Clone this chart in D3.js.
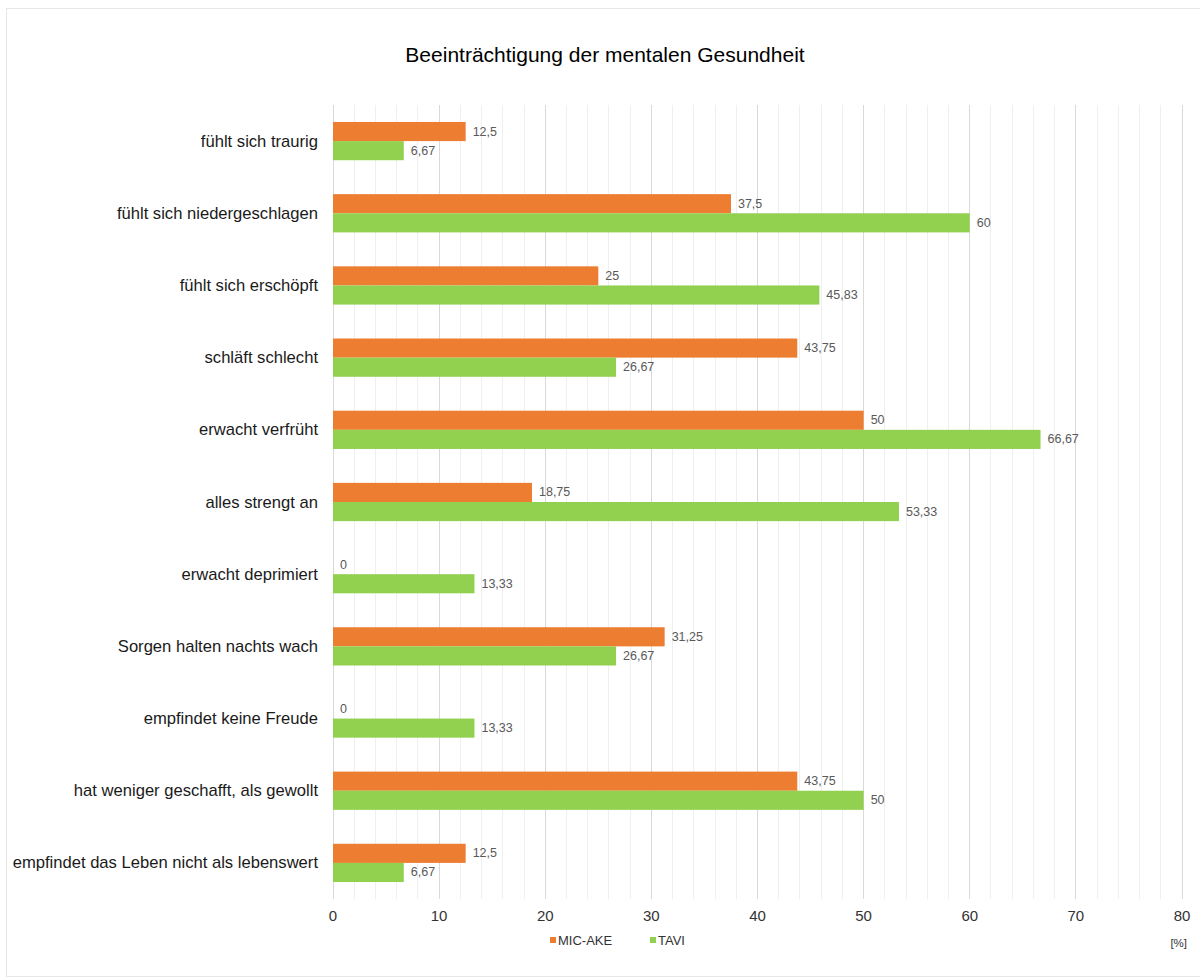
<!DOCTYPE html>
<html><head><meta charset="utf-8">
<script src="https://cdn.jsdelivr.net/npm/d3@7"></script>
<style>body{margin:0;background:#fff;}svg{display:block;font-family:"Liberation Sans",Arial,sans-serif;}</style>
</head><body><svg id="c" width="1200" height="979"></svg>
<script>
const categories = ["fühlt sich traurig","fühlt sich niedergeschlagen","fühlt sich erschöpft","schläft schlecht","erwacht verfrüht","alles strengt an","erwacht deprimiert","Sorgen halten nachts wach","empfindet keine Freude","hat weniger geschafft, als gewollt","empfindet das Leben nicht als lebenswert"];
const micAke = [12.5,37.5,25,43.75,50,18.75,0,31.25,0,43.75,12.5];
const tavi = [6.67,60,45.83,26.67,66.67,53.33,13.33,26.67,13.33,50,6.67];
const seriesNames = ["MIC-AKE","TAVI"];
const colors = ["#ED7D31","#92D050"];
const xTicks = [0,10,20,30,40,50,60,70,80];
const fmt = v => String(v).replace(".", ",");

const svg = d3.select("#c");
svg.append("rect").attr("x",6.5).attr("y",8.5).attr("width",1200).attr("height",968).attr("fill","none").attr("stroke","#e6e6e6");

const x = d3.scaleLinear().domain([0,80]).range([333,1182]);
const y = d3.scaleBand().domain(categories).range([105,899]).paddingInner(0.47).paddingOuter(0.235);
const ys = d3.scaleBand().domain(seriesNames).range([0,y.bandwidth()]);

// grid
const minor = d3.range(0,81,2);
svg.append("g").selectAll("line").data(minor).join("line")
  .attr("x1",d=>x(d)).attr("x2",d=>x(d)).attr("y1",105).attr("y2",899)
  .attr("stroke",d=>d%10===0?"#d9d9d9":"#efefef").attr("stroke-width",1)
  .attr("shape-rendering","crispEdges");

svg.append("text").attr("x",605).attr("y",62).attr("text-anchor","middle")
  .attr("font-size",21).attr("fill","#000").text("Beeinträchtigung der mentalen Gesundheit");

const series = [micAke, tavi];
series.forEach((vals,si)=>{
  const g = svg.append("g");
  g.selectAll("rect").data(categories).join("rect")
    .attr("x",x(0)).attr("y",(c)=>y(c)+ys(seriesNames[si]))
    .attr("width",(c,i)=>x(vals[i])-x(0)).attr("height",ys.bandwidth())
    .attr("fill",colors[si]);
  g.selectAll("text").data(categories).join("text")
    .attr("x",(c,i)=>x(vals[i])+7).attr("y",(c)=>y(c)+ys(seriesNames[si])+ys.bandwidth()/2+4)
    .attr("font-size",12.5).attr("fill","#595959").text((c,i)=>fmt(vals[i]));
});

// category labels
svg.append("g").selectAll("text").data(categories).join("text")
  .attr("x",318).attr("y",c=>y(c)+y.bandwidth()/2+5.5).attr("text-anchor","end")
  .attr("font-size",16.6).attr("fill","#1a1a1a").text(c=>c);

// x tick labels
svg.append("g").selectAll("text").data(xTicks).join("text")
  .attr("x",d=>x(d)).attr("y",921).attr("text-anchor","middle")
  .attr("font-size",15).attr("fill","#333").text(d=>d);

// legend
const leg = svg.append("g");
const legX = [550,650];
seriesNames.forEach((n,i)=>{
  leg.append("rect").attr("x",legX[i]).attr("y",937).attr("width",6).attr("height",6).attr("fill",colors[i]);
  leg.append("text").attr("x",legX[i]+8).attr("y",945).attr("font-size",13).attr("fill","#333").text(n);
});
svg.append("text").attr("x",1187).attr("y",947).attr("text-anchor","end").attr("font-size",11.5).attr("fill","#333").text("[%]");
</script></body></html>
